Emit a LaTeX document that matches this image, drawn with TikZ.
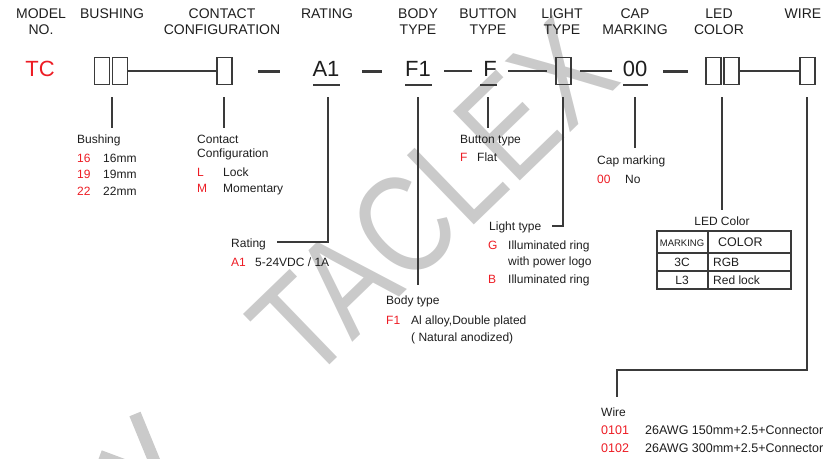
\documentclass[tikz,border=0pt]{standalone}
\usepackage{fontspec}
\usepackage{graphicx}
\setmainfont{Liberation Sans}
\definecolor{tred}{HTML}{ED1C24}
\definecolor{ink}{HTML}{1E1E1E}
\definecolor{wmc}{HTML}{CACACA}
\definecolor{lnc}{HTML}{3A3A3A}
\begin{document}
\begin{tikzpicture}[x=1pt,y=-1pt,
  hdr/.style={font=\fontsize{14}{16}\selectfont, text=ink, inner sep=0, anchor=base},
  big/.style={font=\fontsize{22}{24}\selectfont, text=ink, inner sep=0, anchor=base},
  lbl/.style={font=\fontsize{12}{14}\selectfont, text=ink, inner sep=0, anchor=base west},
  codetxt/.style={lbl, text=tred},
  wirelbl/.style={font=\fontsize{12.5}{14}\selectfont, text=ink, inner sep=0, anchor=base west},
  wirecode/.style={wirelbl, text=tred},
  slot/.style={draw=lnc, line width=1.4pt, minimum width=15pt, minimum height=27pt, inner sep=0},
  thinln/.style={draw=lnc, line width=1.3pt},
  thickln/.style={draw=lnc, line width=3pt},
  uline/.style={draw=lnc, line width=1.8pt},
  wmk/.style={text=wmc, font=\fontsize{140}{140}\selectfont, inner sep=0}
]
\useasboundingbox (0,0) rectangle (826,458);

% watermark
\node[wmk, rotate=44, anchor=base] (wm) at (466,233) {\scalebox{0.82}[1]{TACLEX}};
\begin{scope}
\clip (0,0) rectangle (826,458);
\draw[wmc, line width=12pt] (135,414) -- (158,470);
\draw[wmc, line width=10pt] (100,455) -- (140,470);
\end{scope}

% headers
\node[hdr] (hm1) at (41,18.5) {MODEL};
\node[hdr] (hm2) at (41,34) {NO.};
\node[hdr] (hb) at (112,18.5) {BUSHING};
\node[hdr] (hc1) at (222,18.5) {CONTACT};
\node[hdr] (hc2) at (222,34) {CONFIGURATION};
\node[hdr] (hr) at (327,18.5) {RATING};
\node[hdr] (hy1) at (418,18.5) {BODY};
\node[hdr] (hy2) at (418,34) {TYPE};
\node[hdr] (ht1) at (488,18.5) {BUTTON};
\node[hdr] (ht2) at (488,34) {TYPE};
\node[hdr] (hl1) at (562,18.5) {LIGHT};
\node[hdr] (hl2) at (562,34) {TYPE};
\node[hdr] (hk1) at (635,18.5) {CAP};
\node[hdr] (hk2) at (635,34) {MARKING};
\node[hdr] (he1) at (719,18.5) {LED};
\node[hdr] (he2) at (719,34) {COLOR};
\node[hdr] (hw) at (803,18.5) {WIRE};

% code row
\node[big, text=tred] (tc) at (40,76) {TC};
\node[slot] (bu1) at (101.7,71) {};
\node[slot] (bu2) at (120,71) {};
\node[slot] (cc) at (224.5,71) {};
\node[big] (ra) at (326,76) {A1};
\node[big] (bt) at (418,76) {F1};
\node[big] (bn) at (490,76) {F};
\node[slot] (lt) at (563.5,71) {};
\node[big] (cm) at (635,76) {00};
\node[slot] (le1) at (713.5,71) {};
\node[slot] (le2) at (731.5,71) {};
\node[slot] (wr) at (807.5,71) {};

\draw[thinln] (bu2.east) -- (cc.west);
\draw[thinln] (le2.east) -- (wr.west);
\draw[thickln] (258,71) -- (280,71);
\draw[thickln] (362,71) -- (382,71);
\draw[thickln] (663,71) -- (688,71);
\draw[thinln] (444,71) -- (472,71);
\draw[thinln] (508,71) -- (547,71);
\draw[thinln] (580,71) -- (612,71);
\draw[uline] (313,85) -- (340,85);
\draw[uline] (405,85) -- (432,85);
\draw[uline] (480,85) -- (497,85);
\draw[uline] (623,85) -- (648,85);

% bushing
\coordinate (vb1) at (112,97);
\coordinate (vb2) at (112,128);
\draw[thinln] (vb1) -- (vb2);
\node[lbl] (lb) at (77,143) {Bushing};
\node[codetxt] (lb1c) at (77,162) {16};
\node[lbl] (lb1) at (103,162) {16mm};
\node[codetxt] (lb2c) at (77,178) {19};
\node[lbl] (lb2) at (103,178) {19mm};
\node[codetxt] (lb3c) at (77,195) {22};
\node[lbl] (lb3) at (103,195) {22mm};

% contact
\coordinate (vc1) at (224,97);
\coordinate (vc2) at (224,128);
\draw[thinln] (vc1) -- (vc2);
\node[lbl] (lc) at (197,143) {Contact};
\node[lbl] (lc2) at (197,157) {Configuration};
\node[codetxt] (lc3c) at (197,176) {L};
\node[lbl] (lc3) at (223,176) {Lock};
\node[codetxt] (lc4c) at (197,192) {M};
\node[lbl] (lc4) at (223,192) {Momentary};

% rating
\coordinate (vr1) at (328,97);
\coordinate (vr2) at (328,242);
\coordinate (vr3) at (277,242);
\draw[thinln] (vr1) -- (vr2) -- (vr3);
\node[lbl] (lr) at (231,247) {Rating};
\node[codetxt] (lr1c) at (231,266) {A1};
\node[lbl] (lr1) at (255,266) {5-24VDC / 1A};

% body type
\coordinate (vy1) at (418,97);
\coordinate (vy2) at (418,285);
\draw[thinln] (vy1) -- (vy2);
\node[lbl] (ly) at (386,304) {Body type};
\node[codetxt] (ly1c) at (386,324) {F1};
\node[lbl] (ly1) at (411,324) {Al alloy,Double plated};
\node[lbl] (ly2) at (411,341) {( Natural anodized)};

% button type
\coordinate (vt1) at (488,97);
\coordinate (vt2) at (488,128);
\draw[thinln] (vt1) -- (vt2);
\node[lbl] (lt0) at (460,143) {Button type};
\node[codetxt] (lt1c) at (460,161) {F};
\node[lbl] (lt1) at (477,161) {Flat};

% light type
\coordinate (vl1) at (563,97);
\coordinate (vl2) at (563,226);
\coordinate (vl3) at (552,226);
\draw[thinln] (vl1) -- (vl2) -- (vl3);
\node[lbl] (ll) at (489,230) {Light type};
\node[codetxt] (ll1c) at (488,249) {G};
\node[lbl] (ll1) at (508,249) {Illuminated ring};
\node[lbl] (ll2) at (508,265) {with power logo};
\node[codetxt] (ll3c) at (488,283) {B};
\node[lbl] (ll3) at (508,283) {Illuminated ring};

% cap marking
\coordinate (vk1) at (635,97);
\coordinate (vk2) at (635,148);
\draw[thinln] (vk1) -- (vk2);
\node[lbl] (lk) at (597,164) {Cap marking};
\node[codetxt] (lk1c) at (597,183) {00};
\node[lbl] (lk1) at (625,183) {No};

% LED color
\coordinate (ve1) at (722,97);
\coordinate (ve2) at (722,210);
\draw[thinln] (ve1) -- (ve2);
\node[lbl, anchor=base] (le) at (722,225) {LED Color};
\draw[thinln] (657,231) rectangle (791,289);
\draw[thinln] (657,253) -- (791,253);
\draw[thinln] (657,271) -- (791,271);
\draw[thinln] (708,231) -- (708,289);
\node[font=\fontsize{9.5}{11}\selectfont, text=ink, inner sep=0, anchor=base] (tm) at (682,246) {MARKING};
\node[font=\fontsize{12.5}{14}\selectfont, text=ink, inner sep=0, anchor=base west] (tco) at (718,246.5) {COLOR};
\node[lbl, anchor=base] (t1a) at (682,266) {3C};
\node[lbl] (t1b) at (713,266) {RGB};
\node[lbl, anchor=base] (t2a) at (682,284) {L3};
\node[lbl] (t2b) at (713,284) {Red lock};

% wire
\coordinate (vw1) at (807,97);
\coordinate (vw2) at (807,370);
\coordinate (vw3) at (617,370);
\coordinate (vw4) at (617,397);
\draw[thinln] (vw1) -- (vw2) -- (vw3) -- (vw4);
\node[lbl] (lw) at (601,416) {Wire};
\node[wirecode] (lw1c) at (601,434) {0101};
\node[wirelbl] (lw1) at (645,434) {26AWG 150mm+2.5+Connector};
\node[wirecode] (lw2c) at (601,452) {0102};
\node[wirelbl] (lw2) at (645,452) {26AWG 300mm+2.5+Connector};
\end{tikzpicture}
\end{document}
